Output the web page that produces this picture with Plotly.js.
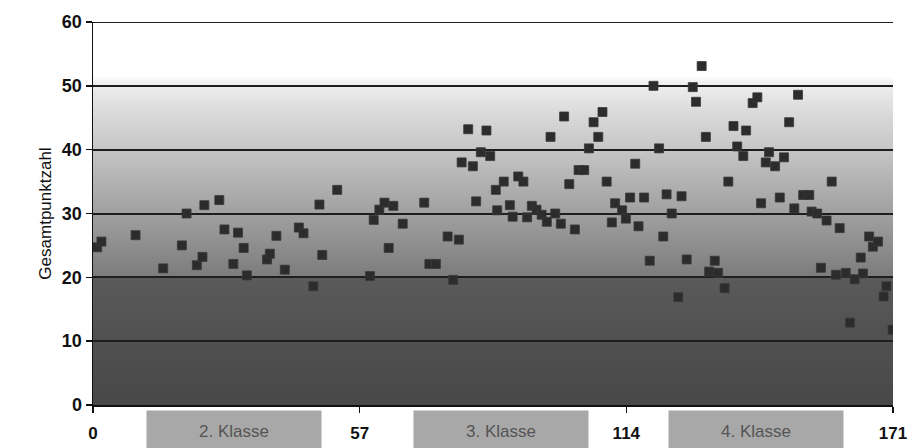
<!DOCTYPE html>
<html>
<head>
<meta charset="utf-8">
<script src="https://cdn.plot.ly/plotly-3.0.1.min.js"></script>
<style>html,body{margin:0;padding:0;background:#fff;}#chart{width:912px;height:448px;}</style>
</head>
<body>
<div id="chart"></div>
<script>
// Student index (x) and total score (y)
const studentIndex = [
  0.9, 1.8, 9.1, 15.0, 19.0, 20.0, 22.2, 23.4, 23.8, 27.0,
  28.1, 30.0, 31.0, 32.2, 32.9, 37.2, 37.8, 39.2, 41.0, 44.0,
  45.0, 47.1, 48.4, 49.0, 52.2, 59.2, 60.0, 61.2, 62.3, 63.2,
  64.2, 66.2, 70.8, 71.9, 73.3, 75.8, 77.0, 78.2, 78.8, 80.2,
  81.2, 81.9, 82.9, 84.1, 84.9, 86.1, 86.4, 87.8, 89.1, 89.7,
  90.9, 92.0, 92.8, 93.8, 94.8, 95.9, 97.0, 97.8, 98.8, 100.0,
  100.7, 101.8, 103.0, 103.8, 105.0, 106.0, 107.0, 108.0, 108.9, 109.8,
  110.9, 111.6, 113.1, 113.9, 114.8, 115.9, 116.6, 117.8, 119.0, 119.8,
  121.0, 121.9, 122.6, 123.7, 125.1, 125.8, 126.9, 128.2, 128.9, 130.1,
  131.0, 131.7, 132.9, 133.6, 135.0, 135.8, 136.9, 137.7, 139.0, 139.6,
  141.0, 142.0, 142.8, 143.8, 144.5, 145.8, 146.8, 147.7, 148.8, 149.9,
  150.7, 151.8, 153.1, 153.6, 154.8, 155.6, 156.8, 157.9, 158.8, 159.6,
  160.9, 161.8, 162.8, 164.1, 164.6, 165.9, 166.7, 167.8, 169.0, 169.6,
  170.9
];
const totalScore = [
  24.7, 25.6, 26.6, 21.4, 25.0, 30.0, 21.9, 23.2, 31.3, 32.1,
  27.5, 22.1, 27.0, 24.6, 20.3, 22.8, 23.7, 26.5, 21.2, 27.8,
  26.9, 18.6, 31.4, 23.5, 33.7, 20.2, 29.0, 30.6, 31.7, 24.6,
  31.2, 28.4, 31.7, 22.1, 22.1, 26.4, 19.6, 25.9, 38.0, 43.2,
  37.4, 31.9, 39.6, 43.0, 39.0, 33.7, 30.5, 35.0, 31.3, 29.5,
  35.8, 35.0, 29.4, 31.2, 30.6, 29.8, 28.7, 42.0, 30.0, 28.4,
  45.2, 34.6, 27.5, 36.8, 36.8, 40.2, 44.3, 42.0, 45.9, 35.0,
  28.6, 31.6, 30.5, 29.2, 32.5, 37.8, 28.0, 32.5, 22.6, 50.0,
  40.2, 26.4, 33.0, 30.0, 16.9, 32.7, 22.8, 49.8, 47.5, 53.1,
  42.0, 20.9, 22.6, 20.7, 18.3, 35.0, 43.7, 40.5, 39.0, 43.0,
  47.3, 48.2, 31.6, 38.0, 39.6, 37.4, 32.5, 38.8, 44.3, 30.8,
  48.6, 32.9, 32.9, 30.3, 30.0, 21.5, 28.9, 35.0, 20.4, 27.7,
  20.7, 12.9, 19.7, 23.1, 20.6, 26.4, 24.8, 25.6, 17.0, 18.6,
  11.8
];
const xTicks = [0, 57, 114, 171];
const yTicks = [0, 10, 20, 30, 40, 50, 60];
const classLabels = ["2. Klasse", "3. Klasse", "4. Klasse"];
const classCenters = [30.1, 87.3, 141.8];
const yTitle = "Gesamtpunktzahl";

// background gradient (style) drawn on a canvas and used as a layout image
const stops = [[0,72],[10,80],[19.9,90],[20.1,124],[25,142],[30,160],[35,178],[40,198],[45,215],[48,228],[50.5,240],[51.5,255],[60,255]];
function grayAt(v){
  for(let i=0;i<stops.length-1;i++){
    const a=stops[i], b=stops[i+1];
    if(v>=a[0] && v<=b[0]){ const t=(v-a[0])/(b[0]-a[0]); return Math.round(a[1]+t*(b[1]-a[1])); }
  }
  return 255;
}
const cv=document.createElement('canvas'); cv.width=4; cv.height=600;
const ctx=cv.getContext('2d');
for(let r=0;r<600;r++){
  const v=60*(1-(r+0.5)/600);
  const g=grayAt(v);
  ctx.fillStyle=`rgb(${g},${g},${g})`; ctx.fillRect(0,r,4,1);
}
const bgURL=cv.toDataURL('image/png');

const FONT='Liberation Sans, Arial, sans-serif';
const annotations = classLabels.map((t,i)=>({
  text:t, x:classCenters[i], xref:'x', y:-0.013, yref:'paper', yanchor:'top', xanchor:'center',
  showarrow:false, bgcolor:'#a8a8a8', width:172, height:38, valign:'middle',
  font:{family:FONT, size:17, color:'#555555'}
}));

const trace = {
  x: studentIndex, y: totalScore, type:'scatter', mode:'markers',
  marker:{symbol:'square', size:9, color:'#2c2c2c', line:{color:'#3a3a3a', width:0.8}},
  hoverinfo:'skip'
};

const layout = {
  width:912, height:448,
  margin:{l:93, r:19, t:22, b:43},
  paper_bgcolor:'#ffffff', plot_bgcolor:'#ffffff',
  showlegend:false,
  font:{family:FONT, color:'#111'},
  images:[{source:bgURL, xref:'paper', yref:'paper', x:0, y:1, sizex:1, sizey:1,
    sizing:'stretch', xanchor:'left', yanchor:'top', layer:'below'}],
  xaxis:{range:[0,171], tickvals:xTicks, ticktext:xTicks.map(String), showgrid:false, zeroline:false,
    showline:true, linecolor:'#111', linewidth:1.5, ticks:'outside', ticklen:6, tickwidth:1.5, tickcolor:'#111',
    ticklabelstandoff:6, tickfont:{size:17, color:'#111', weight:'bold'}},
  yaxis:{range:[0,60], tickvals:yTicks, showgrid:true, gridcolor:'#1e1e1e', gridwidth:2, zeroline:false,
    showline:true, linecolor:'#111', linewidth:1.5, ticks:'outside', ticklen:6, tickwidth:1.5, tickcolor:'#111',
    tickfont:{size:18, color:'#111', weight:'bold'},
    title:{text:yTitle, font:{size:17, color:'#111'}, standoff:6}},
  shapes:[{type:'line', xref:'paper', yref:'y', x0:0, x1:1, y0:60, y1:60, line:{color:'#1e1e1e', width:2}}],
  annotations: annotations
};
Plotly.newPlot('chart',[trace],layout,{staticPlot:true, displayModeBar:false});
</script>
</body>
</html>
